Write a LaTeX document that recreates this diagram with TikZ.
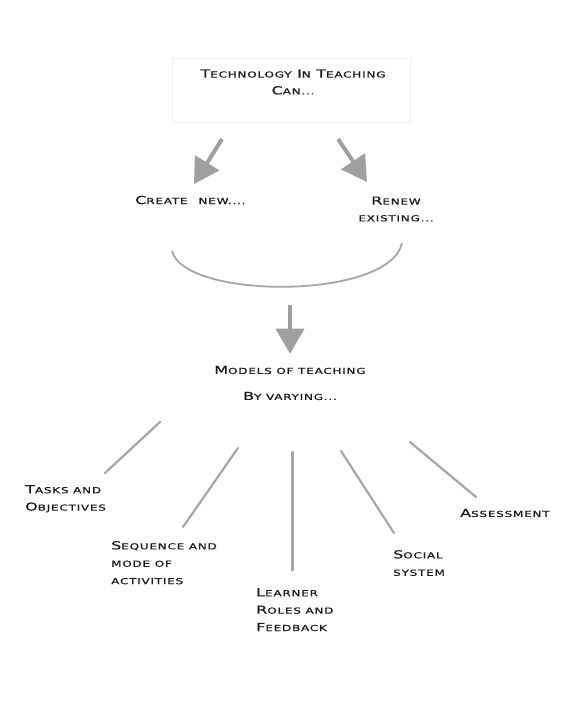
\documentclass[tikz,border=0pt]{standalone}
\usepackage{fontspec}
\setmainfont{DejaVu Sans}
\newfontfamily\widefont[FakeStretch=1.45,LetterSpace=9,FakeBold=0.6]{DejaVu Sans}
\usetikzlibrary{arrows.meta}
\newcommand\scw[2]{{\fontsize{11}{11}\selectfont #1}{\fontsize{8.3}{8.3}\selectfont\MakeUppercase{#2}}}
\begin{document}
\begin{tikzpicture}[x=1pt,y=-1pt,
  lbl/.style={inner sep=0pt,text=black!90,align=left,font=\widefont\linespread{1.45}\selectfont},
  ctr/.style={inner sep=0pt,text=black!90,align=center,font=\widefont\linespread{1.4}\selectfont},
  bigarrow/.style={draw=gray!75,line width=4pt,-{Triangle[width=28pt,length=25pt]}},
  spoke/.style={draw=gray!70,line width=2.2pt,line cap=round}]
\useasboundingbox[fill=white] (0,0) rectangle (567,715);
\draw[black!6,line width=0.6pt] (172,58) rectangle (410,122);
\node[ctr] (title) at (293,82) {\scw{T}{echnology} \scw{I}{n} \scw{T}{eaching}\\\scw{C}{an...}};
\coordinate (la) at (222,139);
\coordinate (ra) at (338,139);
\coordinate (lt) at (194,184);
\coordinate (rt) at (367,182);
\node[lbl,anchor=west] (create) at (135,200) {\scw{C}{reate}\ \ \scw{}{new....}};
\node[ctr] (renew) at (396,209) {\scw{R}{enew}\\\scw{}{existing...}};
\draw[bigarrow] (la) -- (lt);
\draw[bigarrow] (ra) -- (rt);
\coordinate (c1) at (172,251);
\coordinate (c2) at (402,243);
\draw[gray!70,line width=1.8pt] (c1) .. controls (185,300) and (390,300) .. (c2);
\coordinate (da) at (290,305);
\node[ctr] (models) at (290,370) {\scw{M}{odels of teaching}};
\node[ctr] (vary) at (290,396) {\scw{B}{y varying...}};
\draw[bigarrow,shorten >=12pt] (da) -- (models.north);
% spokes
\coordinate (s1a) at (160,422); \coordinate (s1b) at (105,473);
\coordinate (s2a) at (238,448); \coordinate (s2b) at (183,527);
\coordinate (s3a) at (292,452); \coordinate (s3b) at (292,570);
\coordinate (s4a) at (341,451); \coordinate (s4b) at (394,533);
\coordinate (s5a) at (410,442); \coordinate (s5b) at (476,497);
\draw[spoke] (s1a) -- (s1b);
\draw[spoke] (s2a) -- (s2b);
\draw[spoke,line width=3pt] (s3a) -- (s3b);
\draw[spoke] (s4a) -- (s4b);
\draw[spoke] (s5a) -- (s5b);
\node[lbl,anchor=north west] (tasks) at (25,485) {\scw{T}{asks and}\\\scw{O}{bjectives}};
\node[lbl,anchor=north west] (seq) at (111,541) {\scw{S}{equence and}\\\scw{}{mode of}\\\scw{}{activities}};
\node[lbl,anchor=north west] (learner) at (256,588) {\scw{L}{earner}\\\scw{R}{oles and}\\\scw{F}{eedback}};
\node[lbl,anchor=north west] (social) at (393,550) {\scw{S}{ocial}\\\scw{}{system}};
\node[lbl,anchor=west] (assess) at (460,513) {\scw{A}{ssessment}};
\end{tikzpicture}
\end{document}
